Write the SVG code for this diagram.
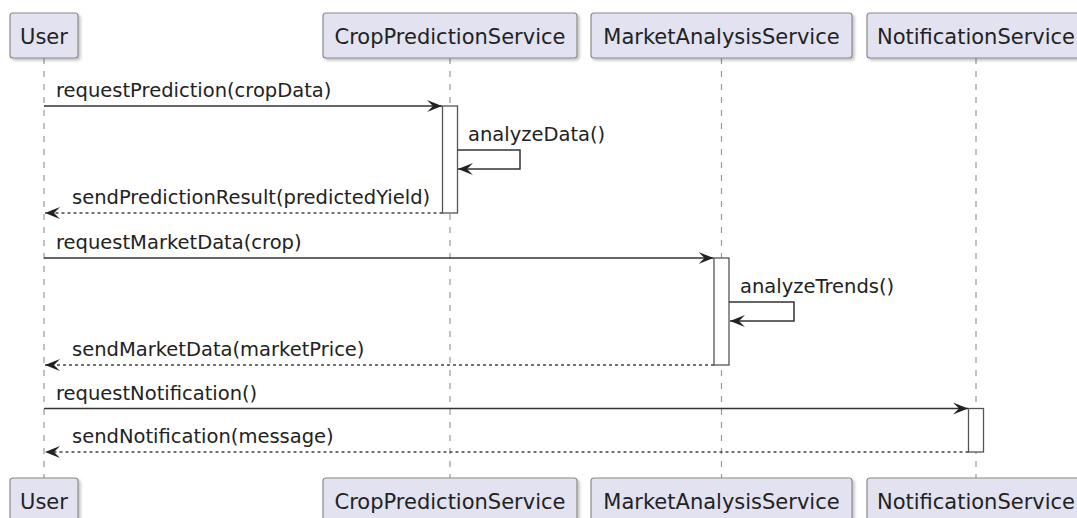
<svg xmlns="http://www.w3.org/2000/svg" width="1077" height="518" viewBox="0 0 1077 518">
<defs>
<filter id="sh" x="-10%" y="-10%" width="130%" height="140%">
<feGaussianBlur in="SourceAlpha" stdDeviation="1.5"/>
<feOffset dx="2" dy="2" result="b"/>
<feComponentTransfer><feFuncA type="linear" slope="0.25"/></feComponentTransfer>
<feMerge><feMergeNode/><feMergeNode in="SourceGraphic"/></feMerge>
</filter>
<marker id="ah" viewBox="0 0 15 12" refX="15" refY="6" markerWidth="15" markerHeight="12" markerUnits="userSpaceOnUse" orient="auto">
<polygon points="0,0 15,6 0,12 6,6" fill="#222"/>
</marker>
</defs>
<style>
.box{fill:#E2E2F0;stroke:#8a8a8a;stroke-width:1.2;filter:url(#sh)}
.pt{font-family:"DejaVu Sans",sans-serif;font-size:21px;fill:#222;text-anchor:middle}
.life{stroke:#999;stroke-width:1.2;stroke-dasharray:6,7;fill:none}
.act{fill:#fff;stroke:#555;stroke-width:1.3}
.msg{stroke:#333;stroke-width:1.5;fill:none}
.ret{stroke:#444;stroke-width:1.4;stroke-dasharray:3,3;fill:none}
.mt{font-family:"DejaVu Sans",sans-serif;font-size:19.5px;fill:#222}
</style>
<rect width="1077" height="518" fill="#fff"/>
<g id="lifelines">
<line class="life" x1="44" y1="58" x2="44" y2="478"/>
<line class="life" x1="450" y1="58" x2="450" y2="478"/>
<line class="life" x1="721.5" y1="58" x2="721.5" y2="478"/>
<line class="life" x1="976" y1="58" x2="976" y2="478"/>
</g>
<g id="User">
<rect class="box" x="10" y="13" width="68" height="45" rx="3"/>
<text class="pt" x="44" y="43.5">User</text>
<rect class="box" x="10" y="478" width="68" height="45" rx="3"/>
<text class="pt" x="44" y="508.5">User</text>
</g>
<g id="CropPredictionService">
<rect class="box" x="323" y="13" width="254" height="45" rx="3"/>
<text class="pt" x="450" y="43.5">CropPredictionService</text>
<rect class="box" x="323" y="478" width="254" height="45" rx="3"/>
<text class="pt" x="450" y="508.5">CropPredictionService</text>
<rect class="act" x="442.5" y="106" width="15" height="107"/>
</g>
<g id="MarketAnalysisService">
<rect class="box" x="591" y="13" width="261" height="45" rx="3"/>
<text class="pt" x="721.5" y="43.5">MarketAnalysisService</text>
<rect class="box" x="591" y="478" width="261" height="45" rx="3"/>
<text class="pt" x="721.5" y="508.5">MarketAnalysisService</text>
<rect class="act" x="714" y="258" width="15" height="107"/>
</g>
<g id="NotificationService">
<rect class="box" x="867" y="13" width="219" height="45" rx="3"/>
<text class="pt" x="976" y="43.5">NotificationService</text>
<rect class="box" x="867" y="478" width="219" height="45" rx="3"/>
<text class="pt" x="976" y="508.5">NotificationService</text>
<rect class="act" x="968.5" y="408.5" width="15" height="43.5"/>
</g>
<g id="connectors">
<line class="msg" x1="44" y1="106" x2="442" y2="106" marker-end="url(#ah)"/>
<text class="mt" x="56" y="97">requestPrediction(cropData)</text>
<polyline class="msg" points="457.5,150 520,150 520,169 458,169" marker-end="url(#ah)"/>
<text class="mt" x="468" y="141">analyzeData()</text>
<line class="ret" x1="442.5" y1="213" x2="45" y2="213" marker-end="url(#ah)"/>
<text class="mt" x="72" y="204">sendPredictionResult(predictedYield)</text>
<line class="msg" x1="44" y1="258" x2="713.5" y2="258" marker-end="url(#ah)"/>
<text class="mt" x="56" y="249">requestMarketData(crop)</text>
<polyline class="msg" points="729,302 794,302 794,321 730,321" marker-end="url(#ah)"/>
<text class="mt" x="740" y="293">analyzeTrends()</text>
<line class="ret" x1="714" y1="365" x2="45" y2="365" marker-end="url(#ah)"/>
<text class="mt" x="72" y="356">sendMarketData(marketPrice)</text>
<line class="msg" x1="44" y1="408.5" x2="968" y2="408.5" marker-end="url(#ah)"/>
<text class="mt" x="56" y="400">requestNotification()</text>
<line class="ret" x1="968.5" y1="452" x2="45" y2="452" marker-end="url(#ah)"/>
<text class="mt" x="72" y="443">sendNotification(message)</text>
</g>
</svg>
